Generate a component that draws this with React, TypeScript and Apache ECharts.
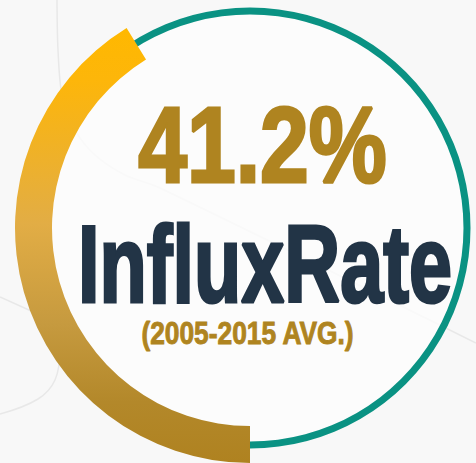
import React, { useEffect, useRef } from "react";
import * as echarts from "echarts";

// ---- data ----
const rateValue: number[] = [41.2];
const rateMax: number[] = [100];
const titleLines: string[] = ["InfluxRate", "(2005-2015 AVG.)"];

const FONT = '"Liberation Sans", Arial, sans-serif';

export default function App() {
  const ref = useRef<HTMLDivElement>(null);

  useEffect(() => {
    if (!ref.current) return;
    const chart = echarts.init(ref.current, null, { renderer: "svg" });
    const cx = 250;
    const cy = 228;
    const gold = new echarts.graphic.LinearGradient(0, 0, 0, 1, [
      { offset: 0, color: "#FFB800" },
      { offset: 0.12, color: "#FDB60A" },
      { offset: 0.45, color: "#E2AD45" },
      { offset: 0.68, color: "#C69A3F" },
      { offset: 0.86, color: "#B3882A" },
      { offset: 1, color: "#AF8220" },
    ]);
    const common = {
      type: "gauge",
      center: [cx, cy],
      startAngle: -90,
      endAngle: -450,
      clockwise: true,
      min: 0,
      max: rateMax[0],
      pointer: { show: false },
      axisTick: { show: false },
      splitLine: { show: false },
      axisLabel: { show: false },
      anchor: { show: false },
      title: { show: false },
      detail: { show: false },
      silent: true,
    };
    const textStyle = (text: string, size: number, fill: string, stroke: number) => ({
      text,
      fontSize: size,
      fontWeight: "bold",
      fontFamily: FONT,
      fill,
      stroke: fill,
      lineWidth: stroke,
      align: "center",
      verticalAlign: "middle",
      textAlign: "center",
      textVerticalAlign: "middle",
    });
    chart.setOption({
      animation: false,
      backgroundColor: "#F8F8F8",
      graphic: [
        {
          type: "polyline",
          z: -10,
          silent: true,
          shape: {
            points: [[57, 0], [58, 50], [62, 95], [75, 130], [95, 155], [125, 175], [160, 188], [476, 343]],
            smooth: 0.3,
          },
          style: { stroke: "#E8E8E8", lineWidth: 1.5, fill: null },
        },
        {
          type: "polyline",
          z: -10,
          silent: true,
          shape: { points: [[0, 297], [40, 315]] },
          style: { stroke: "#E8E8E8", lineWidth: 1.5, fill: null },
        },
        {
          type: "polyline",
          z: -10,
          silent: true,
          shape: { points: [[0, 414], [38, 399], [55, 380], [60, 350]], smooth: 0.4 },
          style: { stroke: "#E8E8E8", lineWidth: 1.5, fill: null },
        },
        {
          type: "circle",
          z: -9,
          silent: true,
          shape: { cx, cy, r: 214 },
          style: { fill: "#FDFDFD", opacity: 0.8 },
        },
        {
          type: "text",
          x: 262.5,
          y: 144.5,
          scaleX: 0.82,
          z: 10,
          style: textStyle(`${rateValue[0]}%`, 107, "#AF8420", 3),
        },
        {
          type: "text",
          x: 265,
          y: 263.5,
          scaleX: 0.71,
          z: 10,
          style: textStyle(titleLines[0], 109, "#223446", 3.2),
        },
        {
          type: "text",
          x: 247.5,
          y: 333.5,
          scaleX: 0.85,
          z: 10,
          style: textStyle(titleLines[1], 31, "#AF8420", 0.9),
        },
      ],
      series: [
        {
          ...common,
          radius: 220.5,
          axisLine: { show: true, lineStyle: { width: 7, color: [[1, "#0A9283"]] } },
          progress: { show: false },
          data: [{ value: rateValue[0] }],
        },
        {
          ...common,
          radius: 235,
          axisLine: { show: false },
          progress: { show: true, width: 37, roundCap: false, itemStyle: { color: gold } },
          data: [{ value: rateValue[0] }],
        },
      ],
    });
    return () => chart.dispose();
  }, []);

  return (
    <div
      ref={ref}
      style={{ position: "fixed", left: 0, top: 0, width: 476, height: 463 }}
    />
  );
}
